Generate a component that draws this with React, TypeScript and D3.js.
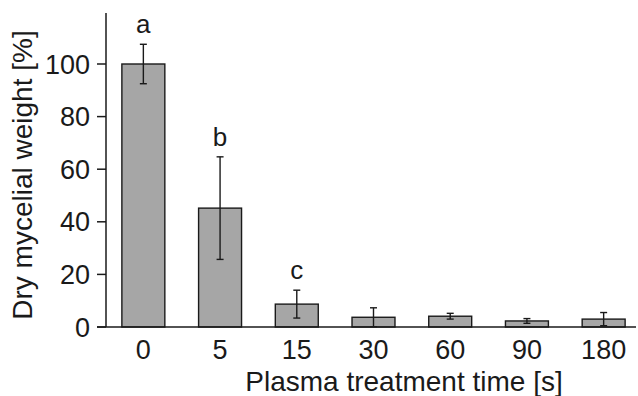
import React from "react";
import * as d3 from "d3";

const categories = ["0", "5", "15", "30", "60", "90", "180"];
const values = [100, 45.2, 8.7, 3.7, 4.1, 2.3, 3.0];
const errors = [7.5, 19.5, 5.3, 3.6, 1.1, 0.9, 2.5];
const letters = ["a", "b", "c", "", "", "", ""];
const yTicks = [0, 20, 40, 60, 80, 100];

const W = 638;
const H = 396;
const FONT = "'Liberation Sans', Arial, sans-serif";
const INK = "#1a1a1a";

export default function App() {
  const x = d3.scaleBand<string>().domain(categories).range([105, 642]).paddingInner(0.44).paddingOuter(0.22);
  const y = d3.scaleLinear().domain([0, 120]).range([327, 11.4]);
  const axisX = 106;
  const axisY = y(0);

  return (
    <svg width={W} height={H} style={{ position: "absolute", left: 0, top: 0, background: "#fff" }}>
      <rect x={0} y={0} width={W} height={H} fill="#fff" />
      {values.map((v, i) => {
        const cx = (x(categories[i]) as number) + x.bandwidth() / 2;
        const top = y(v + errors[i]);
        const bot = y(Math.max(0, v - errors[i]));
        return (
          <g key={i}>
            <rect
              x={x(categories[i])}
              y={y(v)}
              width={x.bandwidth()}
              height={axisY - y(v)}
              fill="#a6a6a6"
              stroke={INK}
              strokeWidth={1.4}
            />
            <line x1={cx} x2={cx} y1={top} y2={bot} stroke={INK} strokeWidth={1.4} />
            <line x1={cx - 3.5} x2={cx + 3.5} y1={top} y2={top} stroke={INK} strokeWidth={1.4} />
            <line x1={cx - 3.5} x2={cx + 3.5} y1={bot} y2={bot} stroke={INK} strokeWidth={1.4} />
            {letters[i] && (
              <text x={cx} y={top - 11} textAnchor="middle" fontFamily={FONT} fontSize={26} fill={INK}>
                {letters[i]}
              </text>
            )}
            <text x={cx} y={359} textAnchor="middle" fontFamily={FONT} fontSize={27} fill={INK}>
              {categories[i]}
            </text>
          </g>
        );
      })}
      <line x1={axisX} x2={axisX} y1={y(119.4)} y2={axisY} stroke={INK} strokeWidth={1.5} />
      <line x1={axisX - 9} x2={636} y1={axisY} y2={axisY} stroke={INK} strokeWidth={1.5} />
      {yTicks.map((t) => (
        <g key={t}>
          <line x1={axisX - 9} x2={axisX} y1={y(t)} y2={y(t)} stroke={INK} strokeWidth={1.5} />
          <text x={90} y={y(t) + 9.5} textAnchor="end" fontFamily={FONT} fontSize={27} fill={INK}>
            {t}
          </text>
        </g>
      ))}
      <text x={404} y={391} textAnchor="middle" fontFamily={FONT} fontSize={28} fill={INK}>
        Plasma treatment time [s]
      </text>
      <text
        transform={`translate(32,175) rotate(-90)`}
        textAnchor="middle"
        fontFamily={FONT}
        fontSize={28}
        fill={INK}
      >
        Dry mycelial weight [%]
      </text>
    </svg>
  );
}
